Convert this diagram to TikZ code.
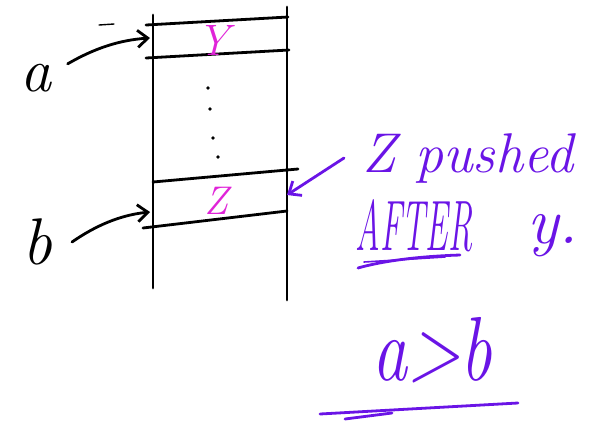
\documentclass[tikz,border=0pt]{standalone}
\usepackage{fontspec}
\usepackage{graphicx}
\usetikzlibrary{arrows.meta}
\tikzset{>={Straight Barb[length=3.6mm,width=6mm]}}
\definecolor{InkPurple}{HTML}{6A14E6}
\definecolor{InkMagenta}{HTML}{E024D8}
\tikzset{
  StackLine/.style={line width=2.8pt, line cap=round},
  InkLine/.style={line width=2.8pt, line cap=round, InkPurple},
  HandText/.style 2 args={font=\fontsize{#1}{#1}\selectfont\itshape, text=#2, inner sep=0pt}
}
\begin{document}
\begin{tikzpicture}[x=1pt, y=-1pt, line join=round]
    \path[use as bounding box] (0,0) rectangle (591,421);
    % stack walls and slots
    \draw[StackLine] (153,15) -- (153,288);
    \draw[StackLine] (287,7) -- (287,300);
    \draw[StackLine] (146,25) -- (288,17);
    \draw[StackLine] (146,58) -- (289,50);
    \draw[StackLine] (153,182) -- (298,169);
    \draw[StackLine] (143,228) -- (287,211);
    \draw[line width=1.4pt, line cap=round] (99,25) -- (114,24);
    \foreach \px/\py in {208/88, 210/109, 213/138, 218/157}
        \fill (\px,\py) circle (1.9);

    \node[HandText={44}{InkMagenta}] (ytop) at (213,40) {Y};
    \node[HandText={40}{InkMagenta}] (zslot) at (216,201) {Z};

    % pointers a and b
    \node[HandText={62}{black}] (a) at (36,78) {a};
    \node[HandText={66}{black}] (b) at (37,242) {b};
    \coordinate (ytarget) at (150,38);
    \coordinate (ztarget) at (150,212);
    \draw[StackLine, ->] ([xshift=16]a.north east) .. controls (95,48) and (120,40) .. (ytarget);
    \draw[StackLine, ->] ([xshift=20]b.east) .. controls (95,226) and (120,215) .. (ztarget);

    % note
    \node[HandText={56}{InkPurple}, anchor=west] (note) at (362,158) {Z pushed};
    \node[HandText={34}{InkPurple}] (after) at (414,226) {\scalebox{1}[2.1]{AFTER}};
    \node[HandText={66}{InkPurple}] (ynote) at (553,236) {y.};
    \coordinate (zright) at (287,195);
    \draw[InkLine, ->] ([xshift=-18]note.west) -- (zright);
    \draw[InkLine] (358,268) .. controls (390,259) and (430,256) .. (460,255);
    \draw[InkLine, line width=1.6pt] (364,262) -- (445,257);

    % result
    \node[HandText={70}{InkPurple}] (res) at (432,350) {\scalebox{1}[1.3]{a>b}};
    \draw[InkLine] (320,414) -- (518,403);
    \draw[InkLine] (345,419) -- (392,413);
\end{tikzpicture}
\end{document}
